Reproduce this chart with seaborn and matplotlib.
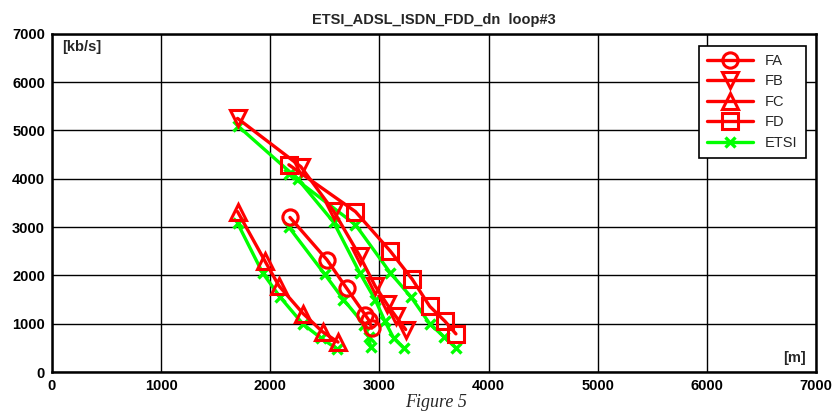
import matplotlib
matplotlib.use('Agg')
import matplotlib.pyplot as plt
import seaborn as sns

# loop length [m] and bit rate [kb/s]
fa_m = [2180, 2520, 2700, 2870, 2900, 2930]
fa_kbs = [3200, 2320, 1730, 1180, 1080, 910]
fb_m = [1700, 2280, 2580, 2820, 2960, 3070, 3150, 3240]
fb_kbs = [5250, 4250, 3330, 2400, 1780, 1400, 1150, 880]
fc_m = [1700, 1950, 2080, 2300, 2480, 2620]
fc_kbs = [3320, 2300, 1780, 1210, 830, 620]
fd_m = [2170, 2780, 3100, 3300, 3460, 3600, 3700]
fd_kbs = [4290, 3320, 2500, 1920, 1360, 1050, 790]

# ETSI reference curves (one per case)
etsi_fa_m = [2170, 2500, 2670, 2860, 2900, 2920]
etsi_fa_kbs = [3000, 2020, 1500, 980, 730, 510]
etsi_fb_m = [1700, 2250, 2580, 2820, 2960, 3050, 3130, 3220]
etsi_fb_kbs = [5100, 4000, 3100, 2050, 1500, 1050, 700, 500]
etsi_fc_m = [1700, 1930, 2090, 2300, 2460, 2610]
etsi_fc_kbs = [3080, 2050, 1550, 990, 710, 480]
etsi_fd_m = [2170, 2780, 3100, 3290, 3460, 3590, 3700]
etsi_fd_kbs = [4100, 3050, 2050, 1550, 1000, 730, 500]

ticks = [0, 1000, 2000, 3000, 4000, 5000, 6000, 7000]

sns.set_style("white")
plt.rcParams['font.family'] = ['Liberation Sans', 'DejaVu Sans']

fig, ax = plt.subplots(figsize=(8.38, 4.18), dpi=100)
fig.subplots_adjust(left=0.062, right=0.974, top=0.919, bottom=0.110)

rojo = '#ff0000'
verde = '#00ff00'

series = [(fa_m, fa_kbs, 'o', 'FA', 11),
          (fb_m, fb_kbs, 'v', 'FB', 12),
          (fc_m, fc_kbs, '^', 'FC', 12),
          (fd_m, fd_kbs, 's', 'FD', 11)]

for xs, ys, mk, nombre, tam in series:
    sns.lineplot(x=xs, y=ys, ax=ax, color=rojo, marker=mk, ms=tam,
                 mfc='none', mec=rojo, mew=2.2, lw=2.4, label=nombre,
                 sort=False, estimator=None, zorder=3)

etsi = [(etsi_fa_m, etsi_fa_kbs), (etsi_fb_m, etsi_fb_kbs),
        (etsi_fc_m, etsi_fc_kbs), (etsi_fd_m, etsi_fd_kbs)]
for i, (xs, ys) in enumerate(etsi):
    sns.lineplot(x=xs, y=ys, ax=ax, color=verde, marker='x', ms=7,
                 mec=verde, mew=2.4, lw=2.4,
                 label='ETSI' if i == 0 else '_nolegend_',
                 sort=False, estimator=None, zorder=2)

ax.set_xlim(0, 7000)
ax.set_ylim(0, 7000)
ax.set_xticks(ticks)
ax.set_yticks(ticks)
ax.set_xticklabels([str(t) for t in ticks], fontweight='bold', fontsize=10.5)
ax.set_yticklabels([str(t) for t in ticks], fontweight='bold', fontsize=10.5)
ax.tick_params(direction='in', length=4, width=1, colors='black', pad=5)
ax.grid(True, color='black', linewidth=1, linestyle='-')
ax.set_axisbelow(True)
for lado in ax.spines.values():
    lado.set_visible(True)
    lado.set_color('black')
    lado.set_linewidth(1.8)

ax.set_xlabel('')
ax.set_ylabel('')
ax.set_title('ETSI_ADSL_ISDN_FDD_dn  loop#3', fontweight='bold', fontsize=10.5, pad=7)
ax.text(0.013, 0.96, '[kb/s]', transform=ax.transAxes, fontweight='bold',
        fontsize=10.5, va='center', ha='left')
ax.text(0.972, 0.041, '[m]', transform=ax.transAxes, fontweight='bold',
        fontsize=10.5, va='center', ha='center')

leg = ax.legend(loc='upper right', bbox_to_anchor=(0.986, 0.965), borderaxespad=0,
                fontsize=10.5, frameon=True, fancybox=False, edgecolor='black',
                framealpha=1, handlelength=3.2, borderpad=0.55, labelspacing=0.45)
leg.get_frame().set_linewidth(1.2)

fig.text(0.52, 0.038, 'Figure 5', family=['Liberation Serif', 'DejaVu Serif'],
         style='italic', fontsize=13, ha='center', va='center')

fig.savefig('out.png', dpi=100)
